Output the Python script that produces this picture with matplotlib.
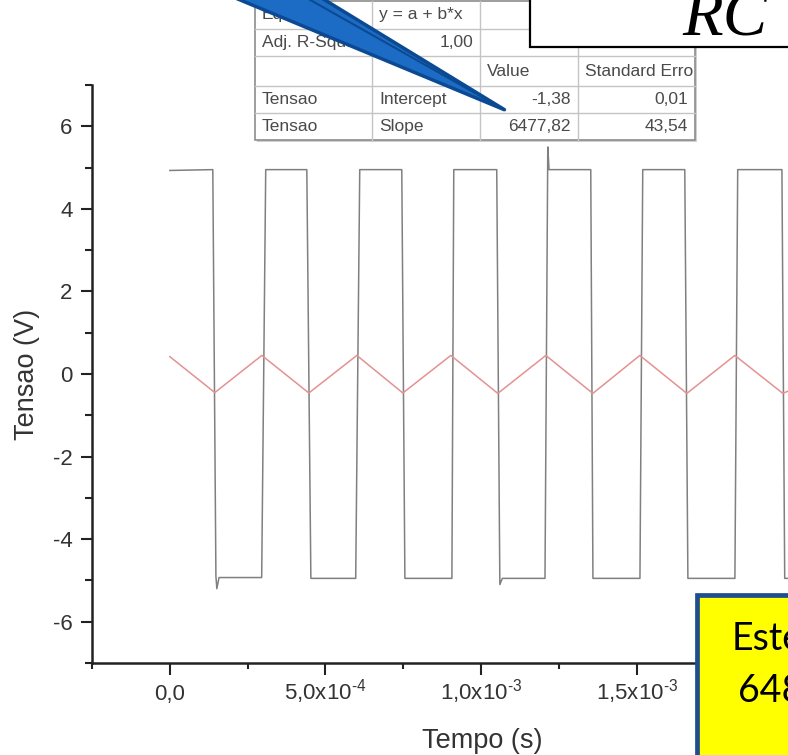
import numpy as np
import matplotlib
matplotlib.use('Agg')
import matplotlib.pyplot as plt
from matplotlib.patches import Rectangle, Polygon
from matplotlib.lines import Line2D

plt.rcParams['font.family'] = ['Liberation Sans', 'DejaVu Sans']
plt.rcParams['mathtext.fontset'] = 'custom'
plt.rcParams['mathtext.rm'] = 'Liberation Sans'
plt.rcParams['mathtext.default'] = 'regular'
plt.rcParams['axes.unicode_minus'] = False

# square wave from the generator (time in units of 1e-4 s, volts)
sq_t = [0.00, 1.38, 1.48, 1.51, 1.58, 2.95, 3.08, 4.40, 4.53, 5.97, 6.10,
        7.45, 7.55, 9.06, 9.12, 10.50, 10.60, 10.68, 12.05, 12.14, 12.18,
        13.52, 13.59, 15.10, 15.19, 16.54, 16.64, 18.15, 18.24, 19.66,
        19.75, 20.50]
sq_v = [4.93, 4.95, -4.90, -5.20, -4.93, -4.93, 4.95, 4.95, -4.95, -4.95,
        4.95, 4.95, -4.95, -4.95, 4.95, 4.95, -5.10, -4.95, -4.95, 5.50,
        4.95, 4.95, -4.95, -4.95, 4.95, 4.95, -4.95, -4.95, 4.95, 4.95,
        -4.95, -4.95]

# voltage across the capacitor (triangle)
tri_t = [0.00, 1.445, 2.955, 4.465, 6.006, 7.484, 9.026, 10.535, 12.077,
         13.587, 15.096, 16.606, 18.148, 19.690, 20.50]
tri_v = [0.42, -0.45, 0.45, -0.46, 0.45, -0.46, 0.45, -0.47, 0.45,
         -0.47, 0.45, -0.47, 0.45, -0.47, -0.20]

xtick_vals = [0.0, 5e-4, 1e-3, 1.5e-3]
xtick_labels = ['0,0', r'5,0x10$^{\text{-}4}$', r'1,0x10$^{\text{-}3}$',
                r'1,5x10$^{\text{-}3}$']
xminor_vals = [-2.5e-4, 2.5e-4, 7.5e-4, 1.25e-3, 1.75e-3]
ytick_vals = [-6, -4, -2, 0, 2, 4, 6]
yminor_vals = [-7, -5, -3, -1, 1, 3, 5, 7]

# linear fit results
fit_rows = [
    ['Equation', 'y = a + b*x', '', ''],
    ['Adj. R-Square', '1,00', '', ''],
    ['', '', 'Value', 'Standard Erro'],
    ['Tensao', 'Intercept', '-1,38', '0,01'],
    ['Tensao', 'Slope', '6477,82', '43,54'],
]
note_lines = ['Este', '648']

W, H = 788, 755


def fx(x):
    return x / W


def fy(y):
    return 1 - y / H


def is_number(s):
    try:
        float(s.replace(',', '.'))
        return True
    except ValueError:
        return False


fig = plt.figure(figsize=(W / 100, H / 100), dpi=100)
ax = fig.add_axes([fx(92), fy(663), 700.5 / W, 578 / H])

ax.plot(np.array(sq_t) * 1e-4, sq_v, color='#808080', lw=1.1)
ax.plot(np.array(tri_t) * 1e-4, tri_v, color='#e39292', lw=1.1)

ax.set_xlim(-2.5e-4, 2.0e-3)
ax.set_ylim(-7, 7)
ax.set_xticks(xtick_vals)
ax.set_xticklabels(xtick_labels)
ax.set_xticks(xminor_vals, minor=True)
ax.set_yticks(ytick_vals)
ax.set_yticks(yminor_vals, minor=True)

for s in ['top', 'right']:
    ax.spines[s].set_visible(False)
for s in ['left', 'bottom']:
    ax.spines[s].set_linewidth(1.8)
    ax.spines[s].set_color('#222222')

ax.tick_params(which='both', direction='out', color='#222222',
               labelcolor='#333333', labelsize=16, width=1.5)
ax.tick_params(axis='y', which='major', length=8, pad=6)
ax.tick_params(axis='y', which='minor', length=5)
ax.tick_params(axis='x', which='major', length=8.5, pad=18)
ax.tick_params(axis='x', which='minor', length=4)
for lab in ax.get_xticklabels():
    lab.set_va('baseline')

ax.set_xlabel('Tempo (s)', fontsize=19.5, color='#333333')
ax.set_ylabel('Tensao (V)', fontsize=19.5, color='#333333')
ax.xaxis.set_label_coords((482 - 92) / 700.5, -(728 - 663) / 578)
ax.yaxis.set_label_coords(-(92 - 40) / 700.5, 0.5)

# fit table
col_edges = [255, 372, 480, 578, 695]
row_edges = [1, 29, 56, 86, 113, 140]
fig.add_artist(Rectangle((fx(257), fy(142)), fx(695 - 255), (140 - 1) / H,
                         facecolor='#d0d0d0', edgecolor='none', zorder=1))
fig.add_artist(Rectangle((fx(255), fy(140)), fx(695 - 255), (140 - 1) / H,
                         facecolor='white', edgecolor='#8c8c8c', lw=1.2,
                         zorder=1.5))
for y in row_edges[1:-1]:
    fig.add_artist(Line2D([fx(255), fx(695)], [fy(y), fy(y)],
                          color='#c4c4c4', lw=1.0, zorder=2))
for x in col_edges[1:-1]:
    fig.add_artist(Line2D([fx(x), fx(x)], [fy(1), fy(140)],
                          color='#c4c4c4', lw=1.0, zorder=2))
for i, row in enumerate(fit_rows):
    yc = (row_edges[i] + row_edges[i + 1]) / 2
    for j, cell in enumerate(row):
        if not cell:
            continue
        if is_number(cell):
            fig.text(fx(col_edges[j + 1] - 7), fy(yc), cell, ha='right',
                     va='center', fontsize=12.5, color='#4a4a4a', zorder=3)
        else:
            fig.text(fx(col_edges[j] + 7), fy(yc), cell, ha='left',
                     va='center', fontsize=12.5, color='#4a4a4a', zorder=3)

# callout pointer
wedge = [(233, -3), (505, 110), (320, -3)]
fig.add_artist(Polygon([(fx(x), fy(y)) for x, y in wedge], closed=True,
                       facecolor='#1c6cc6', edgecolor='#0b4a92', lw=2.5,
                       zorder=5))
fig.add_artist(Line2D([fx(305), fx(505)], [fy(-3), fy(110)],
                      color='#0b4a92', lw=1.5, zorder=5))

# formula box
fig.add_artist(Rectangle((fx(530), fy(47)), fx(300), 60 / H,
                         facecolor='white', edgecolor='black', lw=1.6,
                         zorder=6))
fig.text(fx(725), fy(35), 'RC', ha='center', va='baseline', fontsize=48,
         family='Liberation Serif', style='italic', color='black', zorder=7)

# note box
fig.add_artist(Rectangle((fx(697), fy(800)), fx(200), 205 / H,
                         facecolor='#ffff00', edgecolor='#1f4e8c', lw=3.4,
                         zorder=6))
fig.text(fx(732), fy(650), note_lines[0], ha='left', va='baseline',
         fontsize=27, family='Lato', color='black', zorder=7)
fig.text(fx(738), fy(702), note_lines[1], ha='left', va='baseline',
         fontsize=27, family='Lato', color='black', zorder=7)

fig.savefig('out.png', dpi=100)
